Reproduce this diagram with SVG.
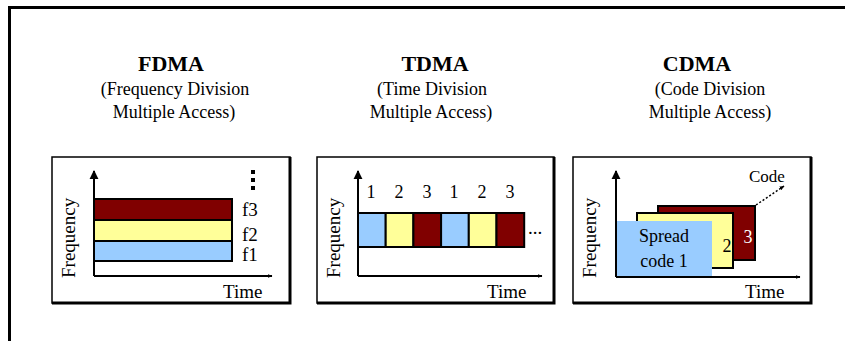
<svg xmlns="http://www.w3.org/2000/svg" width="845" height="341" viewBox="0 0 845 341">
<defs>
<marker id="ah" viewBox="0 0 10 10" refX="9" refY="5" markerWidth="5" markerHeight="5" orient="auto" markerUnits="userSpaceOnUse">
<path d="M0,1 L10,5 L0,9 Z" fill="#000"/>
</marker>
<marker id="ahUp" viewBox="0 0 10 10" refX="9" refY="5" markerWidth="9" markerHeight="10" orient="auto" markerUnits="userSpaceOnUse">
<path d="M0,0 L10,5 L0,10 Z" fill="#000"/>
</marker>
<style>
text{font-family:"Liberation Serif","Times New Roman",serif;fill:#000}
.title{font-size:22px;font-weight:bold;text-anchor:middle}
.sub{font-size:18px;text-anchor:middle}
.lbl{font-size:19px}
.num{font-size:18px;text-anchor:middle}
.panel{fill:#fff;stroke:#000;stroke-width:1.5}
.shadow{stroke:#000;stroke-width:3;fill:none}
.axis{stroke:#000;stroke-width:2;fill:none}
.m{fill:#800000;stroke:#000;stroke-width:2}
.y{fill:#FFFF99;stroke:#000;stroke-width:2}
.b{fill:#99CCFF;stroke:#000;stroke-width:2}
</style>
</defs>
<rect width="845" height="341" fill="#fff"/>
<g id="frame">
<path d="M9.5,341 V7.5 H845" fill="none" stroke="#000" stroke-width="3"/>
</g>

<g id="fdma">
<text class="title" x="171" y="71">FDMA</text>
<text class="sub" x="175" y="95">(Frequency Division</text>
<text class="sub" x="174" y="118">Multiple Access)</text>
<rect class="panel" x="52" y="157" width="238" height="146"/>
<path class="shadow" d="M52,303 H290 V157"/>
<text class="lbl" transform="translate(75,278) rotate(-90)">Frequency</text>
<rect class="m" x="94" y="199" width="138" height="21"/>
<rect class="y" x="94" y="220" width="138" height="21"/>
<rect class="b" x="94" y="241" width="138" height="20"/>
<text class="lbl" x="242" y="216">f3</text>
<text class="lbl" x="242" y="241">f2</text>
<text class="lbl" x="242" y="261">f1</text>
<rect x="251" y="170" width="4" height="4"/>
<rect x="251" y="178" width="4" height="4"/>
<rect x="251" y="186" width="4" height="4"/>
<text class="lbl" x="223" y="298">Time</text>
</g>

<g id="tdma">
<text class="title" x="435" y="71">TDMA</text>
<text class="sub" x="432" y="95">(Time Division</text>
<text class="sub" x="431" y="118">Multiple Access)</text>
<rect class="panel" x="317" y="157" width="237" height="146"/>
<path class="shadow" d="M317,303 H554 V157"/>
<text class="lbl" transform="translate(340,278) rotate(-90)">Frequency</text>
<rect class="b" x="358" y="213" width="27.7" height="34"/>
<rect class="y" x="385.7" y="213" width="27.7" height="34"/>
<rect class="m" x="413.4" y="213" width="27.7" height="34"/>
<rect class="b" x="441.1" y="213" width="27.7" height="34"/>
<rect class="y" x="468.8" y="213" width="27.7" height="34"/>
<rect class="m" x="496.5" y="213" width="27.7" height="34"/>
<text class="num" x="371" y="198">1</text>
<text class="num" x="399" y="198">2</text>
<text class="num" x="427" y="198">3</text>
<text class="num" x="454" y="198">1</text>
<text class="num" x="482" y="198">2</text>
<text class="num" x="510" y="198">3</text>
<text class="lbl" x="528" y="234">...</text>
<text class="lbl" x="487" y="298">Time</text>
</g>

<g id="cdma">
<text class="title" x="697" y="71">CDMA</text>
<text class="sub" x="710" y="95">(Code Division</text>
<text class="sub" x="710" y="118">Multiple Access)</text>
<rect class="panel" x="573" y="157" width="238" height="146"/>
<path class="shadow" d="M573,303 H811 V157"/>
<text class="lbl" transform="translate(596,278) rotate(-90)">Frequency</text>
<rect class="m" x="658" y="206" width="97" height="54"/>
<rect class="y" x="637" y="213" width="96" height="55"/>
<rect x="616" y="221" width="96" height="55" fill="#99CCFF"/>
<text class="num" x="664" y="242">Spread</text>
<text class="num" x="664" y="267">code 1</text>
<text class="num" x="727" y="252">2</text>
<text class="num" x="748" y="243" style="fill:#fff">3</text>
<text style="font-size:17px" x="749" y="182">Code</text>
<text class="lbl" x="745" y="298">Time</text>
</g>

<g id="connectors">
<line class="axis" x1="94" y1="276" x2="94" y2="171" marker-end="url(#ahUp)"/>
<line class="axis" x1="94" y1="276" x2="272" y2="276" marker-end="url(#ah)"/>
<line class="axis" x1="358" y1="276" x2="358" y2="171" marker-end="url(#ahUp)"/>
<line class="axis" x1="358" y1="276" x2="542" y2="276" marker-end="url(#ah)"/>
<line class="axis" x1="616" y1="277" x2="616" y2="171" marker-end="url(#ahUp)"/>
<line class="axis" x1="616" y1="277" x2="800" y2="277" marker-end="url(#ah)"/>
<line x1="756" y1="205" x2="784" y2="186" stroke="#000" stroke-width="1.5" stroke-dasharray="2,2" marker-end="url(#ah)"/>
</g>
</svg>
